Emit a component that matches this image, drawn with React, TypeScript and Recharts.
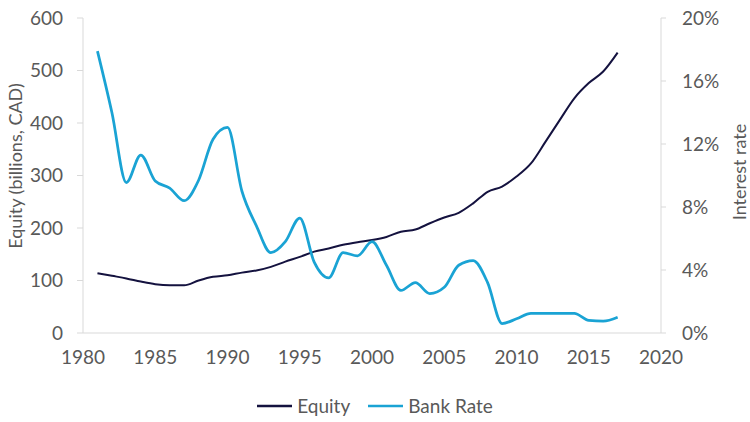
import { LineChart, Line, XAxis, YAxis, Legend } from 'recharts';

const years = [
  1981, 1982, 1983, 1984, 1985, 1986, 1987, 1988, 1989, 1990,
  1991, 1992, 1993, 1994, 1995, 1996, 1997, 1998, 1999, 2000,
  2001, 2002, 2003, 2004, 2005, 2006, 2007, 2008, 2009, 2010,
  2011, 2012, 2013, 2014, 2015, 2016, 2017,
];
// billions, CAD
const equity = [
  114, 109, 104, 98, 93, 91, 91, 100, 107, 110,
  115, 119, 126, 136, 145, 155, 161, 168, 173, 177,
  183, 193, 197, 209, 220, 229, 247, 269, 279, 298,
  323, 364, 406, 447, 476, 498, 534,
];
// percent
const bankRate = [
  17.9, 14.0, 9.55, 11.3, 9.65, 9.2, 8.4, 9.7, 12.3, 13.05,
  9.0, 6.8, 5.1, 5.8, 7.3, 4.5, 3.5, 5.1, 4.9, 5.8,
  4.3, 2.7, 3.2, 2.5, 2.9, 4.3, 4.6, 3.2, 0.6, 0.9,
  1.25, 1.25, 1.25, 1.25, 0.8, 0.75, 1.0,
];
const seriesNames = ['Equity', 'Bank Rate'];
const xTicks = [1980, 1985, 1990, 1995, 2000, 2005, 2010, 2015, 2020];
const equityTicks = [0, 100, 200, 300, 400, 500, 600];
const rateTicks = [0, 4, 8, 12, 16, 20];

const data = years.map((y, i) => ({ year: y, equity: equity[i], rate: bankRate[i] }));

const FONT = 'Lato, "Open Sans", sans-serif';
const TEXT = '#595959';
const AXIS = '#d9d9d9';
const NAVY = '#14123f';
const BLUE = '#1aa3d4';

const tickStyle = { fill: TEXT, fontSize: 19, fontFamily: FONT };

// rotated axis title at a fixed spot
const AxisTitle = ({ value, x, y }: any) => (
  <text
    x={x}
    y={y}
    transform={`rotate(-90, ${x}, ${y})`}
    textAnchor="middle"
    dominantBaseline="central"
    fill={TEXT}
    fontSize={18}
    fontFamily={FONT}
  >
    {value}
  </text>
);

// legend drawn by hand so the swatches match the original length and order
const LegendBox = (props: any) => {
  const items = [...(props.payload || [])].sort(
    (a: any, b: any) => seriesNames.indexOf(a.value) - seriesNames.indexOf(b.value)
  );
  return (
    <div style={{ display: 'flex', justifyContent: 'center', alignItems: 'center', fontFamily: FONT, fontSize: 19, color: TEXT }}>
      {items.map((it: any) => (
        <div key={it.value} style={{ display: 'flex', alignItems: 'center', margin: '0 9px' }}>
          <svg width={35} height={10} style={{ marginRight: 5 }}>
            <line x1={0} y1={5} x2={35} y2={5} stroke={it.color} strokeWidth={2.5} />
          </svg>
          <span>{it.value}</span>
        </div>
      ))}
    </div>
  );
};

export default function App() {
  return (
    <div style={{ position: 'absolute', left: 0, top: 0, width: 750, height: 422, background: '#fff' }}>
      <LineChart width={750} height={422} data={data} margin={{ top: 18, right: 0, bottom: 0, left: 0 }}>
        <XAxis
          dataKey="year"
          type="number"
          domain={[1980, 2020]}
          ticks={xTicks}
          axisLine={{ stroke: AXIS }}
          tickLine={false}
          tickSize={0}
          tickMargin={18}
          height={49}
          tick={tickStyle}
        />
        <YAxis
          yAxisId="left"
          domain={[0, 600]}
          ticks={equityTicks}
          width={83}
          axisLine={{ stroke: AXIS }}
          tickLine={{ stroke: AXIS }}
          tickSize={6}
          tickMargin={14}
          tick={tickStyle}
          label={() => <AxisTitle value="Equity (billions, CAD)" x={15} y={166} />}
        />
        <YAxis
          yAxisId="right"
          orientation="right"
          domain={[0, 20]}
          ticks={rateTicks}
          width={89}
          axisLine={{ stroke: AXIS }}
          tickLine={{ stroke: AXIS }}
          tickSize={5}
          tickMargin={16}
          tickFormatter={(v: number) => `${v}%`}
          tick={tickStyle}
          label={() => <AxisTitle value="Interest rate" x={739} y={172} />}
        />
        <Legend verticalAlign="bottom" height={40} wrapperStyle={{ top: 394, left: 0, width: 750 }} content={LegendBox} />
        <Line yAxisId="left" name="Equity" dataKey="equity" type="monotone" stroke={NAVY} strokeWidth={2} dot={false} isAnimationActive={false} />
        <Line yAxisId="right" name="Bank Rate" dataKey="rate" type="monotone" stroke={BLUE} strokeWidth={2.75} dot={false} isAnimationActive={false} />
      </LineChart>
    </div>
  );
}
